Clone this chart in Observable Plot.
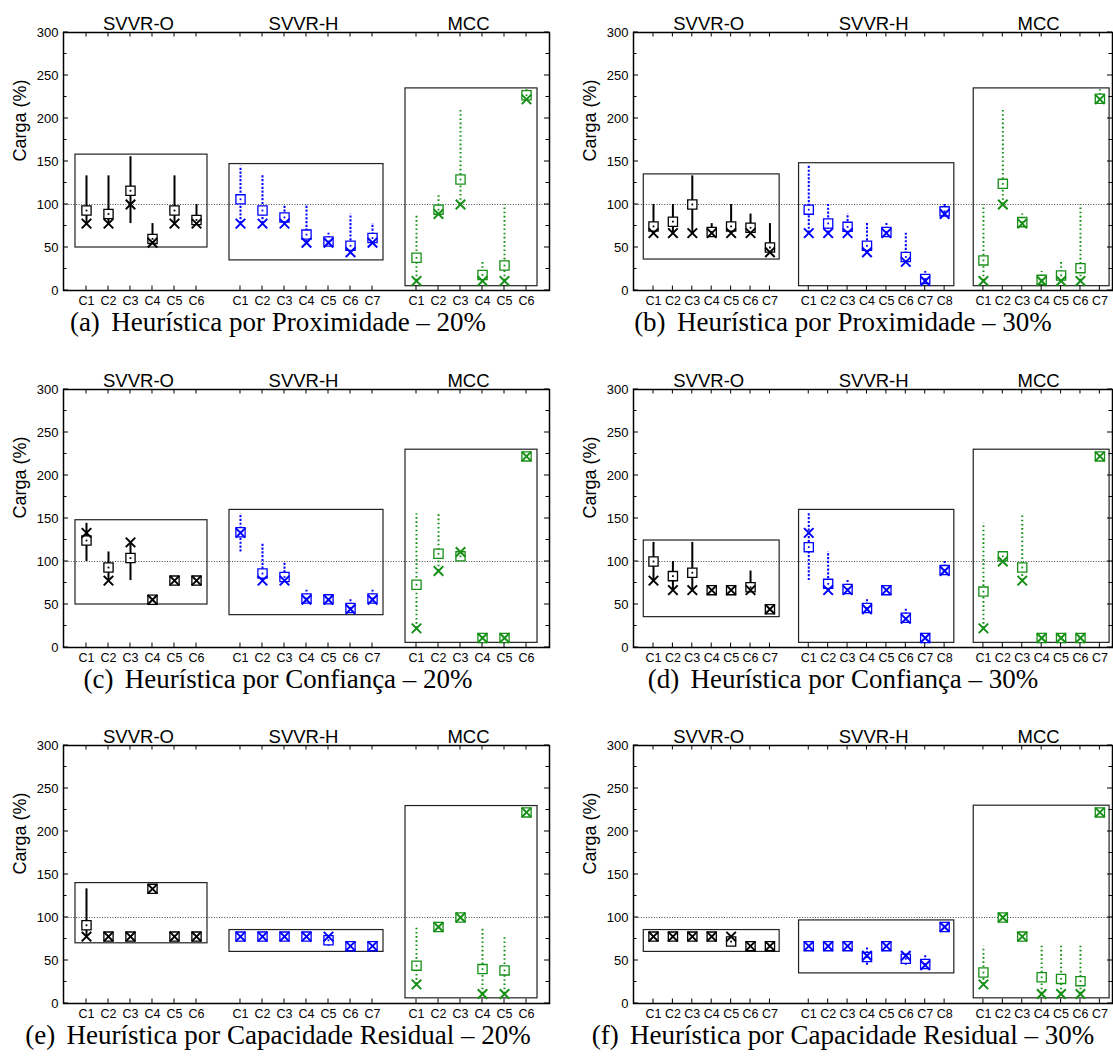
<!DOCTYPE html>
<html><head><meta charset="utf-8">
<script src="https://cdn.jsdelivr.net/npm/d3@7"></script>
<script src="https://cdn.jsdelivr.net/npm/@observablehq/plot@0.6"></script>
<style>
body{margin:0;background:#fff;width:1113px;height:1062px;position:relative;overflow:hidden}
.panel{position:absolute}
.cap{position:absolute;font-family:"Liberation Serif","Times New Roman",serif;font-size:27px;white-space:nowrap;transform:translateX(-50%);line-height:26px;color:#000}
.cap .lbl{margin-right:0.42em}
</style></head><body>
<script>
// ---- categories / labels ----
const cats6 = ["C1","C2","C3","C4","C5","C6"];
const cats7 = ["C1","C2","C3","C4","C5","C6","C7"];
const cats8 = ["C1","C2","C3","C4","C5","C6","C7","C8"];
const groupNames = ["SVVR-O","SVVR-H","MCC"];
const yTicks = [0,50,100,150,200,250,300];
const yMinor = [0,25,50,75,100,125,150,175,200,225,250,275,300];
const refLine = [100];

// ---- (a) Proximidade 20% ----
const a_O_mean  = [93, 89, 116, 60, 93, 82];
const a_O_cross = [77.8, 77.8, 100, 55.6, 77.8, 77.8];
const a_O_min   = [77.8, 77.8, 77.8, 55.6, 77.8, 77.8];
const a_O_max   = [133.3, 133.3, 155.6, 77.8, 133.3, 100];
const a_O_box   = [50, 158];
const a_H_mean  = [106, 93, 85, 65, 57, 52, 61];
const a_H_cross = [77.8, 77.8, 77.8, 55.6, 55.6, 44.4, 55.6];
const a_H_min   = [77.8, 77.8, 77.8, 55.6, 55.6, 44.4, 55.6];
const a_H_max   = [144.4, 133.3, 100, 100, 66.7, 88.9, 77.8];
const a_H_box   = [35, 147];
const a_M_mean  = [38, 94, 129, 18, 29, 227];
const a_M_cross = [11.1, 88.9, 100, 11.1, 11.1, 222.2];
const a_M_min   = [11.1, 88.9, 100, 11.1, 11.1, 222.2];
const a_M_max   = [88.9, 111.1, 211.1, 33.3, 100, 233.3];
const a_M_box   = [5, 235];

// ---- (b) Proximidade 30% ----
const b_O_mean  = [74.5, 80, 100, 68, 74.5, 73, 50];
const b_O_cross = [66.7, 66.7, 66.7, 66.7, 66.7, 66.7, 44.4];
const b_O_min   = [66.7, 66.7, 66.7, 66.7, 66.7, 66.7, 44.4];
const b_O_max   = [100, 100, 133.3, 77.8, 100, 88.9, 77.8];
const b_O_box   = [36, 135];
const b_H_mean  = [94, 78, 74, 52, 68, 39, 13.5, 92];
const b_H_cross = [66.7, 66.7, 66.7, 44.4, 66.7, 33.3, 11.1, 88.9];
const b_H_min   = [66.7, 66.7, 66.7, 44.4, 66.7, 33.3, 11.1, 88.9];
const b_H_max   = [144.4, 100, 88.9, 77.8, 77.8, 66.7, 22.2, 100];
const b_H_box   = [5, 148];
const b_M_mean  = [35, 124, 79.5, 12.4, 17.5, 26, 223];
const b_M_cross = [11.1, 100, 77.8, 11.1, 11.1, 11.1, 222.2];
const b_M_min   = [11.1, 100, 77.8, 11.1, 11.1, 11.1, 222.2];
const b_M_max   = [100, 211.1, 88.9, 22.2, 33.3, 100, 233.3];
const b_M_box   = [5, 235];

// ---- (c) Confiança 20% ----
const c_O_mean  = [124.4, 93, 104, 55.6, 77.8, 77.8];
const c_O_cross = [133.3, 77.8, 122.2, 55.6, 77.8, 77.8];
const c_O_min   = [100, 77.8, 77.8, 55.6, 77.8, 77.8];
const c_O_max   = [144.4, 111.1, 122.2, 55.6, 77.8, 77.8];
const c_O_box   = [50, 148];
const c_H_mean  = [134, 86, 82, 57, 56, 46, 57];
const c_H_cross = [133.3, 77.8, 77.8, 55.6, 55.6, 44.4, 55.6];
const c_H_min   = [111.1, 77.8, 77.8, 55.6, 55.6, 44.4, 55.6];
const c_H_max   = [155.6, 122.2, 100, 66.7, 55.6, 55.6, 66.7];
const c_H_box   = [37.6, 160];
const c_M_mean  = [73, 109, 106, 11.1, 11.1, 222.2];
const c_M_cross = [22.2, 88.9, 111.1, 11.1, 11.1, 222.2];
const c_M_min   = [22.2, 88.9, 100, 11.1, 11.1, 222.2];
const c_M_max   = [155.6, 155.6, 111.1, 11.1, 11.1, 222.2];
const c_M_box   = [5.4, 230];

// ---- (d) Confiança 30% ----
const d_O_mean  = [100, 83, 87, 66.7, 66.7, 70, 44.4];
const d_O_cross = [77.8, 66.7, 66.7, 66.7, 66.7, 66.7, 44.4];
const d_O_min   = [77.8, 66.7, 66.7, 66.7, 66.7, 66.7, 44.4];
const d_O_max   = [122.2, 100, 122.2, 66.7, 66.7, 88.9, 44.4];
const d_O_box   = [35.3, 124.4];
const d_H_mean  = [116.7, 74, 68, 46, 66.7, 34.5, 11.1, 90];
const d_H_cross = [133.3, 66.7, 66.7, 44.4, 66.7, 33.3, 11.1, 88.9];
const d_H_min   = [77.8, 66.7, 66.7, 44.4, 66.7, 33.3, 11.1, 88.9];
const d_H_max   = [155.6, 111.1, 77.8, 55.6, 66.7, 44.4, 11.1, 100];
const d_H_box   = [5.4, 160];
const d_M_mean  = [65, 106, 93, 11.1, 11.1, 11.1, 222.2];
const d_M_cross = [22.2, 100, 77.8, 11.1, 11.1, 11.1, 222.2];
const d_M_min   = [22.2, 100, 77.8, 11.1, 11.1, 11.1, 222.2];
const d_M_max   = [144.4, 111.1, 155.6, 11.1, 11.1, 11.1, 222.2];
const d_M_box   = [5.4, 230];

// ---- (e) Capacidade Residual 20% ----
const e_O_mean  = [91, 77.8, 77.8, 133.3, 77.8, 77.8];
const e_O_cross = [77.8, 77.8, 77.8, 133.3, 77.8, 77.8];
const e_O_min   = [77.8, 77.8, 77.8, 133.3, 77.8, 77.8];
const e_O_max   = [133.3, 77.8, 77.8, 133.3, 77.8, 77.8];
const e_O_box   = [70, 140];
const e_H_mean  = [77.8, 77.8, 77.8, 77.8, 73.5, 66.7, 66.7];
const e_H_cross = [77.8, 77.8, 77.8, 77.8, 77.8, 66.7, 66.7];
const e_H_min   = [77.8, 77.8, 77.8, 77.8, 66.7, 66.7, 66.7];
const e_H_max   = [77.8, 77.8, 77.8, 77.8, 77.8, 66.7, 66.7];
const e_H_box   = [60, 85.4];
const e_M_mean  = [44, 88.9, 100, 40, 38.5, 222.2];
const e_M_cross = [22.2, 88.9, 100, 11.1, 11.1, 222.2];
const e_M_min   = [22.2, 88.9, 100, 11.1, 11.1, 222.2];
const e_M_max   = [88.9, 88.9, 100, 88.9, 77.8, 222.2];
const e_M_box   = [6, 229.6];

// ---- (f) Capacidade Residual 30% ----
const f_O_mean  = [77.8, 77.8, 77.8, 77.8, 72, 66.7, 66.7];
const f_O_cross = [77.8, 77.8, 77.8, 77.8, 77.8, 66.7, 66.7];
const f_O_min   = [77.8, 77.8, 77.8, 77.8, 66.7, 66.7, 66.7];
const f_O_max   = [77.8, 77.8, 77.8, 77.8, 77.8, 66.7, 66.7];
const f_O_box   = [60, 85.4];
const f_H_mean  = [66.7, 66.7, 66.7, 54, 66.7, 52, 46, 88.9];
const f_H_cross = [66.7, 66.7, 66.7, 55.6, 66.7, 55.6, 44.4, 88.9];
const f_H_min   = [66.7, 66.7, 66.7, 44.4, 66.7, 44.4, 44.4, 88.9];
const f_H_max   = [66.7, 66.7, 66.7, 66.7, 66.7, 55.6, 55.6, 88.9];
const f_H_box   = [35, 96.6];
const f_M_mean  = [36, 100, 77.8, 30.5, 28.6, 26, 222.2];
const f_M_cross = [22.2, 100, 77.8, 11.1, 11.1, 11.1, 222.2];
const f_M_min   = [22.2, 100, 77.8, 11.1, 11.1, 11.1, 222.2];
const f_M_max   = [66.7, 100, 77.8, 66.7, 66.7, 66.7, 222.2];
const f_M_box   = [6, 230];

const captionLabels = ["(a)","(b)","(c)","(d)","(e)","(f)"];
const captionTexts = [
  "Heurística por Proximidade – 20%",
  "Heurística por Proximidade – 30%",
  "Heurística por Confiança – 20%",
  "Heurística por Confiança – 30%",
  "Heurística por Capacidade Residual – 20%",
  "Heurística por Capacidade Residual – 30%"
];

// ---- styles ----
const colors = ["#000000", "#0000ff", "#168f16"];
const dashes = [null, "2.2,1.6", "1.6,2.6"];

const G = (cats, mean, cross, min, max, box) => ({cats, mean, cross, min, max, box});
const L = {left:0, width:556, mr:7, xdom:[-1.045, 21.045], capX:278};
const R = {left:570, width:543, mr:1, xdom:[-1.03, 23.65], capX:843};
const rowsTop = [0, 356.6, 713];

const panels = [
  {...L, top:rowsTop[0], groups:[G(cats6,a_O_mean,a_O_cross,a_O_min,a_O_max,a_O_box), G(cats7,a_H_mean,a_H_cross,a_H_min,a_H_max,a_H_box), G(cats6,a_M_mean,a_M_cross,a_M_min,a_M_max,a_M_box)]},
  {...R, top:rowsTop[0], groups:[G(cats7,b_O_mean,b_O_cross,b_O_min,b_O_max,b_O_box), G(cats8,b_H_mean,b_H_cross,b_H_min,b_H_max,b_H_box), G(cats7,b_M_mean,b_M_cross,b_M_min,b_M_max,b_M_box)]},
  {...L, top:rowsTop[1], groups:[G(cats6,c_O_mean,c_O_cross,c_O_min,c_O_max,c_O_box), G(cats7,c_H_mean,c_H_cross,c_H_min,c_H_max,c_H_box), G(cats6,c_M_mean,c_M_cross,c_M_min,c_M_max,c_M_box)]},
  {...R, top:rowsTop[1], groups:[G(cats7,d_O_mean,d_O_cross,d_O_min,d_O_max,d_O_box), G(cats8,d_H_mean,d_H_cross,d_H_min,d_H_max,d_H_box), G(cats7,d_M_mean,d_M_cross,d_M_min,d_M_max,d_M_box)]},
  {...L, top:rowsTop[2], groups:[G(cats6,e_O_mean,e_O_cross,e_O_min,e_O_max,e_O_box), G(cats7,e_H_mean,e_H_cross,e_H_min,e_H_max,e_H_box), G(cats6,e_M_mean,e_M_cross,e_M_min,e_M_max,e_M_box)]},
  {...R, top:rowsTop[2], groups:[G(cats7,f_O_mean,f_O_cross,f_O_min,f_O_max,f_O_box), G(cats8,f_H_mean,f_H_cross,f_H_min,f_H_max,f_H_box), G(cats7,f_M_mean,f_M_cross,f_M_min,f_M_max,f_M_box)]}
];

function frameTicks(tickPos) {
  return (index, scales, values, dim) => {
    const {x, y} = scales;
    const x0 = dim.marginLeft, x1 = dim.width - dim.marginRight;
    const y0 = dim.marginTop, y1 = dim.height - dim.marginBottom;
    const g = d3.create("svg:g").attr("stroke", "#000").attr("stroke-width", 1).attr("fill", "none");
    for (const v of yMinor) {
      const len = v % 50 === 0 ? 5 : 3.5;
      const yy = y(v);
      g.append("line").attr("x1", x0).attr("x2", x0 + len).attr("y1", yy).attr("y2", yy);
      g.append("line").attr("x1", x1 - len).attr("x2", x1).attr("y1", yy).attr("y2", yy);
    }
    for (const p of tickPos) {
      const xx = x(p);
      g.append("line").attr("x1", xx).attr("x2", xx).attr("y1", y0).attr("y2", y0 + 4.5);
      g.append("line").attr("x1", xx).attr("x2", xx).attr("y1", y1 - 4.5).attr("y2", y1);
    }
    return g.node();
  };
}

function makePanel(cfg) {
  const tickPos = [], tickLab = new Map(), boxes = [], labels = [];
  const groupRows = [];
  let start = 0;
  cfg.groups.forEach((g, gi) => {
    const n = g.mean.length;
    const rows = g.mean.map((m, i) => {
      const pos = start + i;
      tickPos.push(pos); tickLab.set(pos, g.cats[i]);
      return {pos, mean: m, cross: g.cross[i], lo: g.min[i], hi: g.max[i]};
    });
    groupRows.push(rows);
    boxes.push({x1: start - 0.5, x2: start + n - 0.5, y1: g.box[0], y2: g.box[1]});
    labels.push({x: start + (n - 1) / 2, text: groupNames[gi]});
    start += n + 1;
  });

  const marks = [
    Plot.ruleY(refLine, {stroke: "#333", strokeWidth: 0.9, strokeDasharray: "1,1.6"}),
    Plot.rect(boxes, {x1: "x1", x2: "x2", y1: "y1", y2: "y2", fill: "none", stroke: "#222", strokeWidth: 1.2})
  ];
  groupRows.forEach((rows, gi) => {
    const c = colors[gi];
    marks.push(Plot.ruleX(rows, {x: "pos", y1: "lo", y2: "hi", stroke: c, strokeWidth: 2, strokeDasharray: dashes[gi] || undefined}));
  });
  groupRows.forEach((rows, gi) => {
    const c = colors[gi];
    marks.push(Plot.dot(rows, {x: "pos", y: "mean", symbol: "square", r: 5.2, fill: "white", stroke: c, strokeWidth: 1.3}));
    marks.push(Plot.dot(rows, {x: "pos", y: "mean", symbol: "square", r: 1, fill: c, stroke: "none"}));
    marks.push(Plot.dot(rows, {x: "pos", y: "cross", symbol: "times", r: 4.4, fill: "none", stroke: c, strokeWidth: 2}));
  });
  marks.push(
    Plot.frame({stroke: "#000", strokeWidth: 1.5}),
    frameTicks(tickPos),
    Plot.axisY({ticks: yTicks, tickSize: 0, tickPadding: 5, fontSize: 13, label: null}),
    Plot.axisX(tickPos, {tickSize: 0, tickPadding: 6, fontSize: 12.5, tickFormat: d => tickLab.get(d), label: null}),
    Plot.text(["Carga (%)"], {frameAnchor: "left", rotate: -90, dx: -43, fontSize: 18}),
    Plot.text(labels, {x: "x", text: "text", frameAnchor: "top", lineAnchor: "bottom", dy: -3, dx: -3, fontSize: 18.5})
  );

  return Plot.plot({
    width: cfg.width, height: 310,
    marginLeft: 63, marginRight: cfg.mr, marginTop: 32, marginBottom: 20,
    x: {domain: cfg.xdom, axis: null},
    y: {domain: [0, 300], axis: null},
    style: {fontFamily: "'Liberation Sans', Arial, Helvetica, sans-serif", background: "white", color: "#000", overflow: "visible"},
    marks
  });
}

panels.forEach((cfg, i) => {
  const div = document.createElement("div");
  div.className = "panel";
  div.style.left = cfg.left + "px";
  div.style.top = cfg.top + "px";
  div.appendChild(makePanel(cfg));
  document.body.appendChild(div);
  const cap = document.createElement("div");
  cap.className = "cap";
  cap.style.left = cfg.capX + "px";
  cap.style.top = (cfg.top + 309) + "px";
  const lbl = document.createElement("span");
  lbl.className = "lbl";
  lbl.textContent = captionLabels[i];
  cap.appendChild(lbl);
  cap.appendChild(document.createTextNode(captionTexts[i]));
  document.body.appendChild(cap);
});
</script>
</body></html>
